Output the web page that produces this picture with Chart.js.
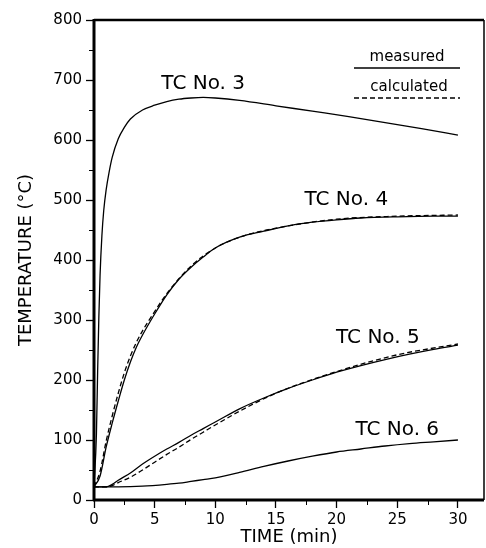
<!DOCTYPE html>
<html>
<head>
<meta charset="utf-8">
<script src="https://cdn.jsdelivr.net/npm/chart.js@4.4.0/dist/chart.umd.min.js"></script>
<style>
  html, body { margin: 0; padding: 0; background: #fff; }
</style>
</head>
<body>
<canvas id="tc-chart" width="486" height="548"></canvas>
<script>
// TC No. 3 (measured)
const tc3Time = [0, 0.2, 0.3, 0.4, 0.5, 0.65, 0.8, 1.0, 1.25, 1.5, 2, 2.5, 3, 4, 5, 6, 7, 8, 9, 10, 12, 15, 18, 21, 24, 27, 30];
const tc3Temp = [22, 110, 215, 305, 375, 440, 482, 517, 547, 571, 602, 621, 635, 650, 658, 664, 668, 670, 671, 670, 666, 657, 648, 639, 629, 619, 608];

// TC No. 4
const tc4Time = [0, 0.5, 1, 1.5, 2, 2.5, 3, 3.5, 4, 5, 6, 7, 8, 9, 10, 12, 14, 16, 18, 20, 22, 25, 28, 30];
const tc4Temp = [22, 40, 88, 128, 165, 200, 230, 255, 275, 310, 342, 368, 388, 405, 420, 438, 448, 457, 463, 467, 470, 472, 473, 473];
const tc4CalcTime = [0, 0.5, 1, 1.5, 2, 2.5, 3, 3.5, 4, 5, 6, 8, 10, 12, 15, 20, 25, 30];
const tc4CalcTemp = [22, 48, 98, 140, 178, 212, 240, 263, 282, 314, 344, 390, 420, 438, 453, 468, 473, 475];

// TC No. 5
const tc5Time = [0, 1, 1.5, 2, 3, 4, 5, 6, 7, 8, 9, 10, 12, 14, 16, 18, 20, 22, 24, 26, 28, 30];
const tc5Temp = [22, 22, 26, 33, 45, 60, 73, 85, 96, 108, 119, 130, 152, 170, 186, 200, 213, 224, 234, 243, 251, 258];
const tc5CalcTime = [0, 1, 1.5, 2, 3, 4, 5, 6, 7, 8, 9, 10, 12, 15, 20, 25, 30];
const tc5CalcTemp = [22, 22, 24, 29, 38, 50, 63, 76, 88, 101, 113, 125, 148, 178, 214, 242, 260];

// TC No. 6
const tc6Time = [0, 2, 4, 6, 7, 8, 9, 10, 12, 14, 16, 18, 20, 22, 24, 26, 28, 30];
const tc6Temp = [22, 22, 23, 26, 28, 31, 34, 37, 46, 56, 65, 73, 80, 85, 90, 94, 97, 100];

const xTicks = [0, 5, 10, 15, 20, 25, 30];
const yTicks = [0, 100, 200, 300, 400, 500, 600, 700, 800];

// curve labels, placed in data units
const curveLabels = [
  { text: "TC No. 3", t: 9.0, temp: 693 },
  { text: "TC No. 4", t: 20.8, temp: 500 },
  { text: "TC No. 5", t: 23.4, temp: 270 },
  { text: "TC No. 6", t: 25.0, temp: 117 },
];

const FONT = "'DejaVu Sans', sans-serif";

function toPoints(times, temps) {
  return times.map((t, i) => ({ x: t, y: temps[i] }));
}

function series(times, temps, dashed) {
  return {
    data: toPoints(times, temps),
    borderColor: "#000",
    borderWidth: 1.3,
    borderDash: dashed ? [5, 3] : [],
    pointRadius: 0,
    fill: false,
    cubicInterpolationMode: "monotone",
  };
}

// frame, minor ticks, curve labels and the little legend
const decorations = {
  id: "decorations",
  afterDraw(chart) {
    const { ctx, chartArea: a, scales } = chart;
    ctx.save();
    ctx.strokeStyle = "#000";

    // frame
    const side = (x1, y1, x2, y2, w) => {
      ctx.lineWidth = w;
      ctx.beginPath();
      ctx.moveTo(x1, y1);
      ctx.lineTo(x2, y2);
      ctx.stroke();
    };
    side(a.left, a.top - 1, a.left, a.bottom + 1, 3);
    side(a.left - 1, a.bottom, a.right, a.bottom, 3);
    side(a.left, a.top, a.right, a.top, 2.5);
    side(a.right, a.top, a.right, a.bottom, 1.5);

    // minor ticks
    for (let v = 50; v < 800; v += 100) {
      const y = Math.round(scales.y.getPixelForValue(v)) + 0.5;
      side(a.left - 5, y, a.left, y, 1);
    }
    for (let v = 2.5; v < 30; v += 5) {
      const x = Math.round(scales.x.getPixelForValue(v)) + 0.5;
      side(x, a.bottom, x, a.bottom + 5, 1);
    }

    // curve labels
    ctx.fillStyle = "#000";
    ctx.font = "20px " + FONT;
    ctx.textAlign = "center";
    ctx.textBaseline = "middle";
    curveLabels.forEach((l) => {
      ctx.fillText(l.text, scales.x.getPixelForValue(l.t), scales.y.getPixelForValue(l.temp));
    });

    // legend
    ctx.font = "15px " + FONT;
    ctx.fillText("measured", a.right - 77, a.top + 37);
    ctx.fillText("calculated", a.right - 75, a.top + 67);
    side(a.right - 130, a.top + 48, a.right - 24, a.top + 48, 1.3);
    ctx.setLineDash([5, 3]);
    side(a.right - 130, a.top + 78, a.right - 24, a.top + 78, 1.3);
    ctx.restore();
  },
};

const chart = new Chart(document.getElementById("tc-chart"), {
  type: "line",
  data: {
    datasets: [
      series(tc3Time, tc3Temp, false),
      series(tc4CalcTime, tc4CalcTemp, true),
      series(tc4Time, tc4Temp, false),
      series(tc5CalcTime, tc5CalcTemp, true),
      series(tc5Time, tc5Temp, false),
      series(tc6Time, tc6Temp, false),
    ],
  },
  options: {
    responsive: false,
    animation: false,
    devicePixelRatio: 1,
    layout: { padding: { top: 20, right: 2, left: 0, bottom: 0 } },
    plugins: {
      legend: { display: false },
      tooltip: { enabled: false },
    },
    scales: {
      x: {
        type: "linear",
        min: 0,
        max: 32.15,
        afterFit: (s) => { s.height = 48; },
        afterBuildTicks: (s) => { s.ticks = xTicks.map((v) => ({ value: v })); },
        ticks: {
          color: "#000",
          font: { family: FONT, size: 15 },
          padding: 3,
          maxRotation: 0,
        },
        grid: { drawOnChartArea: false, tickLength: 8, tickColor: "#000", tickWidth: 1.3 },
        border: { display: false },
        title: {
          display: true,
          text: "TIME (min)",
          color: "#000",
          font: { family: FONT, size: 18 },
          padding: { top: 0, bottom: 0 },
        },
      },
      y: {
        min: 0,
        max: 800,
        afterFit: (s) => { s.width = 94; },
        afterBuildTicks: (s) => { s.ticks = yTicks.map((v) => ({ value: v })); },
        ticks: {
          color: "#000",
          font: { family: FONT, size: 15 },
          padding: 4,
        },
        grid: { drawOnChartArea: false, tickLength: 8, tickColor: "#000", tickWidth: 1.3 },
        border: { display: false },
        title: {
          display: true,
          text: "TEMPERATURE (°C)",
          color: "#000",
          font: { family: FONT, size: 18 },
          padding: { top: 16, bottom: 0 },
        },
      },
    },
  },
  plugins: [decorations],
});
</script>
</body>
</html>
